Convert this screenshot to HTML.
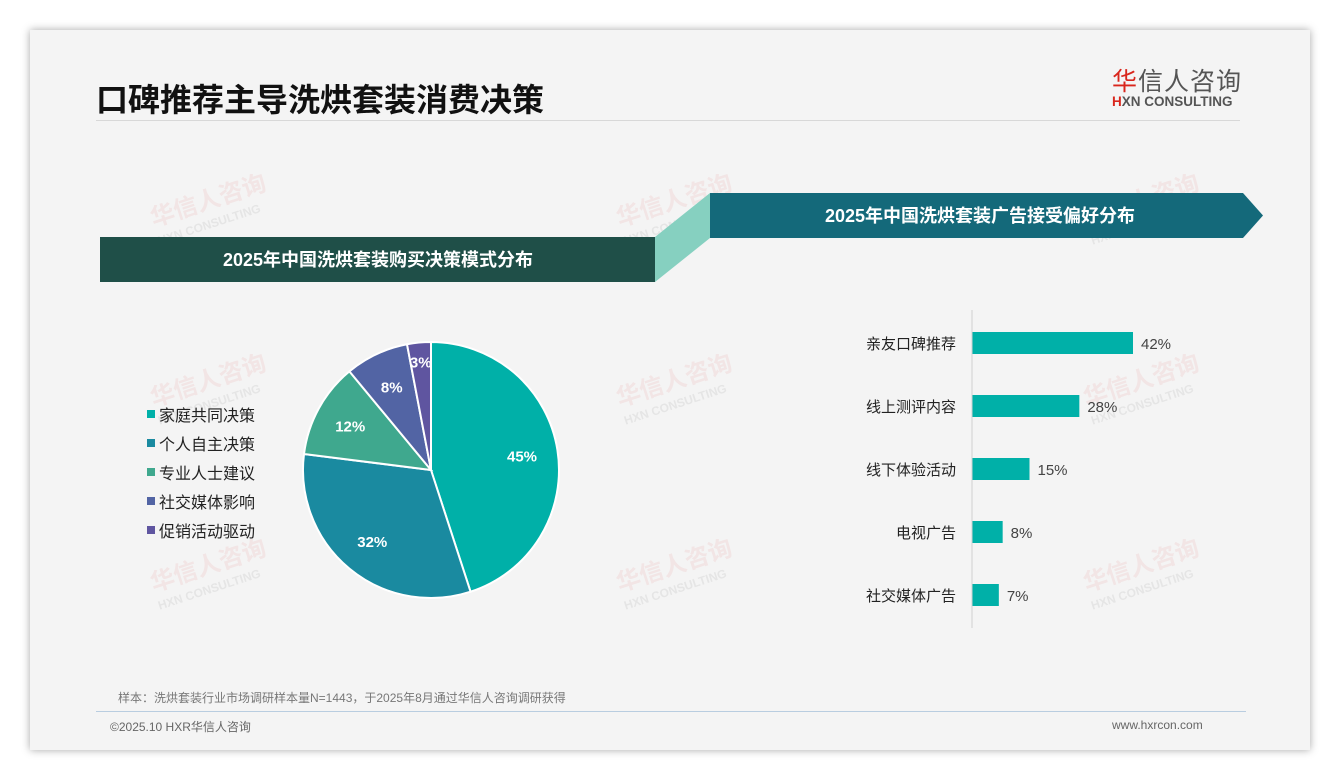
<!DOCTYPE html>
<html><head><meta charset="utf-8"><style>
body{margin:0;width:1340px;height:780px;background:#fff;font-family:"Liberation Sans","Noto Sans CJK SC",sans-serif;overflow:hidden;position:relative}
.card{position:absolute;left:30px;top:30px;width:1280px;height:720px;background:#f4f4f4;box-shadow:0 0 8px rgba(0,0,0,.35)}
.abs{position:absolute}
.wm{position:absolute;transform:rotate(-18deg);color:rgba(220,80,80,0.09);font-size:24px;font-weight:bold;line-height:22px}
.wm small{display:block;font-size:12px;color:rgba(120,120,120,0.12)}
</style></head><body>
<div class="card"></div>
<div class="wm" style="left:152px;top:190px">华信人咨询<small>HXN CONSULTING</small></div>
<div class="wm" style="left:152px;top:370px">华信人咨询<small>HXN CONSULTING</small></div>
<div class="wm" style="left:152px;top:555px">华信人咨询<small>HXN CONSULTING</small></div>
<div class="wm" style="left:618px;top:190px">华信人咨询<small>HXN CONSULTING</small></div>
<div class="wm" style="left:618px;top:370px">华信人咨询<small>HXN CONSULTING</small></div>
<div class="wm" style="left:618px;top:555px">华信人咨询<small>HXN CONSULTING</small></div>
<div class="wm" style="left:1085px;top:190px">华信人咨询<small>HXN CONSULTING</small></div>
<div class="wm" style="left:1085px;top:370px">华信人咨询<small>HXN CONSULTING</small></div>
<div class="wm" style="left:1085px;top:555px">华信人咨询<small>HXN CONSULTING</small></div>
<div class="abs" style="left:96px;top:75px;font-size:32px;font-weight:bold;color:#111">口碑推荐主导洗烘套装消费决策</div>
<div class="abs" style="left:96px;top:120px;width:1144px;height:1px;background:#d8d8d8"></div>
<div class="abs" style="left:1112px;top:62px;font-size:25px;color:#555;letter-spacing:1px"><span style="color:#d9261c">华</span>信人咨询</div>
<div class="abs" style="left:1112px;top:94px;font-size:13.5px;font-weight:bold;color:#555"><span style="color:#d9261c">H</span>XN CONSULTING</div>
<svg class="abs" style="left:0;top:0" width="1340" height="780">
<polygon points="655,237 710,193 710,238 655,282" fill="#86d0c0"/>
<rect x="100" y="237" width="555" height="45" fill="#1f4f48"/>
<text x="378" y="266" text-anchor="middle" font-size="18" font-weight="bold" fill="#fff">2025年中国洗烘套装购买决策模式分布</text>
<polygon points="710,193 1243,193 1263,215.5 1243,238 710,238" fill="#14697a"/>
<text x="980" y="222" text-anchor="middle" font-size="18" font-weight="bold" fill="#fff">2025年中国洗烘套装广告接受偏好分布</text>
<g id="pie"></g><g id="legend"></g><g id="bars"></g>
<line x1="972" y1="310" x2="972" y2="628" stroke="#cfcfcf"/>
</svg>
<div class="abs" style="left:118px;top:689px;font-size:12px;color:#777">样本：洗烘套装行业市场调研样本量N=1443，于2025年8月通过华信人咨询调研获得</div>
<div class="abs" style="left:96px;top:711px;width:1150px;height:1px;background:#b9cde0"></div>
<div class="abs" style="left:110px;top:718px;font-size:12px;color:#666">©2025.10 HXR华信人咨询</div>
<div class="abs" style="left:1112px;top:718px;font-size:12px;color:#666">www.hxrcon.com</div>
<script>
const NS="http://www.w3.org/2000/svg";
const pieLabels=["家庭共同决策","个人自主决策","专业人士建议","社交媒体影响","促销活动驱动"];
const pieValues=[45,32,12,8,3];
const pieColors=["#00b0a8","#1a8aa0","#3fa88e","#5264a4","#5f55a0"];
const barLabels=["亲友口碑推荐","线上测评内容","线下体验活动","电视广告","社交媒体广告"];
const barValues=[42,28,15,8,7];
function mk(t,a,p){const e=document.createElementNS(NS,t);for(const k in a)e.setAttribute(k,a[k]);p.appendChild(e);return e;}
const cx=431,cy=470,R=128,tot=pieValues.reduce((a,b)=>a+b,0);
let ang=0;const pg=document.getElementById('pie');
pieValues.forEach((v,i)=>{
 const a0=ang,a1=ang+v/tot*2*Math.PI;ang=a1;
 const p=(a)=>[cx+R*Math.sin(a),cy-R*Math.cos(a)];
 const [x0,y0]=p(a0),[x1,y1]=p(a1);
 const s=mk('path',{d:`M${cx},${cy}L${x0},${y0}A${R},${R} 0 ${a1-a0>Math.PI?1:0} 1 ${x1},${y1}Z`,fill:pieColors[i],stroke:'#fff','stroke-width':2},pg);
 
 
 const m=(a0+a1)/2,r=v<5?R*0.85:R*0.72;
 const t=mk('text',{x:cx+r*Math.sin(m),y:cy-r*Math.cos(m)+6,'text-anchor':'middle','font-size':15,'font-weight':'bold',fill:'#fff'},pg);
 t.textContent=v+'%';
 
 
 const lg=document.getElementById('legend');
 mk('rect',{x:147,y:410+i*29,width:8,height:8,fill:pieColors[i]},lg);
 const lt=mk('text',{x:159,y:421+i*29,'font-size':16,fill:'#222'},lg);
 lt.textContent=pieLabels[i];
 
 
});
const bg=document.getElementById('bars');const sc=161/42;
barValues.forEach((v,i)=>{
 const y=343+i*63;
 const r=mk('rect',{x:972,y:y-11,width:v*sc,height:22,fill:'#00b0a8'},bg);
 
 
 const l=mk('text',{x:956,y:y+6,'text-anchor':'end','font-size':15,fill:'#222'},bg);l.textContent=barLabels[i];
 
 
 const vt=mk('text',{x:972+v*sc+8,y:y+6,'font-size':15,fill:'#444'},bg);vt.textContent=v+'%';
 
 
});
</script>
</body></html>
